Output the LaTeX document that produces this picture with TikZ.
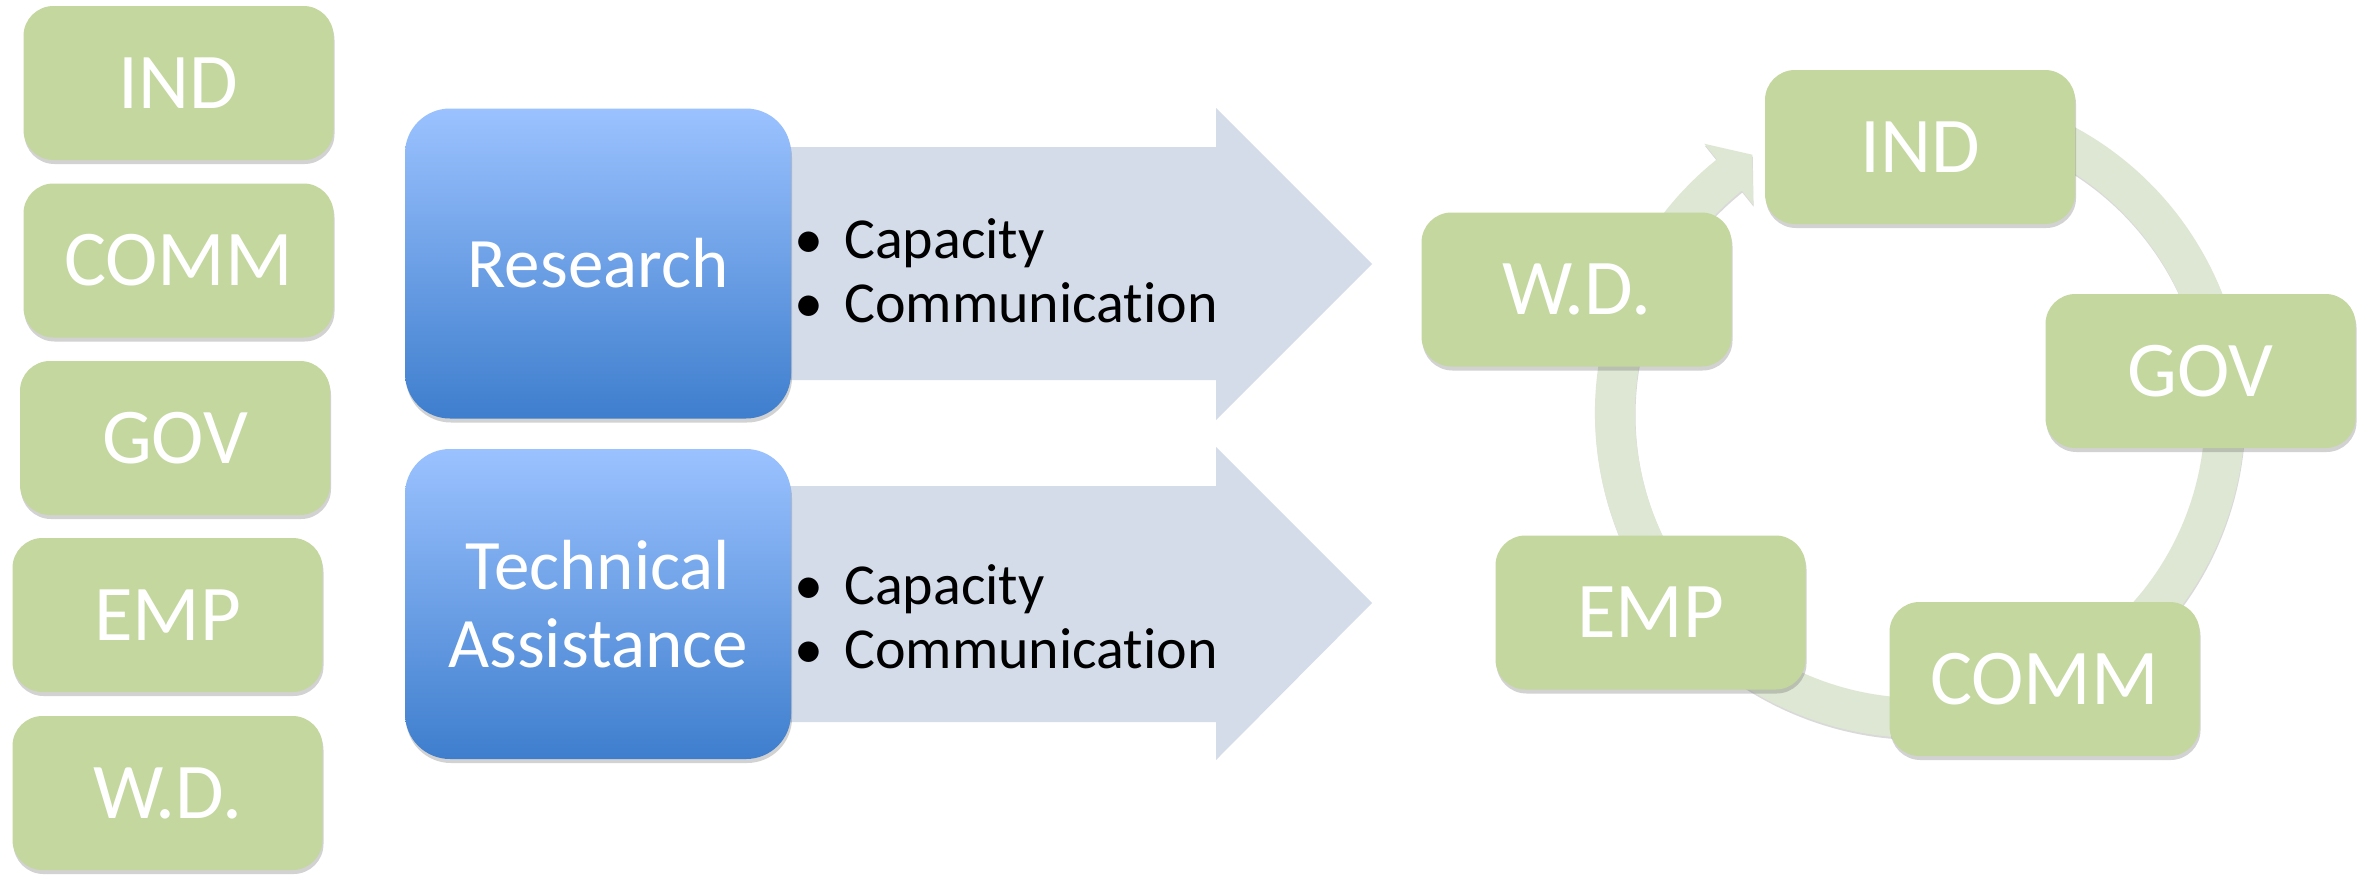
\documentclass[tikz,border=0pt]{standalone}
\usepackage{fontspec}
\setmainfont{Carlito}[Ligatures={NoCommon,NoContextual}]
\usetikzlibrary{shadows}
\definecolor{boxgreen}{RGB}{196,215,159}
\definecolor{ringgreen}{RGB}{222,231,211}
\definecolor{arrowgrey}{RGB}{212,220,234}
\definecolor{bluetop}{RGB}{155,194,255}
\definecolor{bluebot}{RGB}{62,126,205}
\begin{document}
\begin{tikzpicture}[x=1pt,y=1pt,
  softshadow/.style={drop shadow={shadow xshift=1pt, shadow yshift=-4pt, opacity=0.25, fill=black!70}},
  gbox/.style={fill=boxgreen, rounded corners=30pt, minimum width=310pt, minimum height=154pt,
    text=white, font=\fontsize{79}{82}\selectfont, inner sep=0pt, softshadow},
  bbox/.style={top color=bluetop, bottom color=bluebot, rounded corners=45pt,
    minimum width=386pt, minimum height=310pt, text=white, align=center,
    font=\fontsize{71}{78}\selectfont, inner sep=0pt, softshadow},
  bul/.style={anchor=base, inner sep=0pt, font=\fontsize{58}{64}\selectfont},
  btext/.style={anchor=base west, inner sep=0pt, font=\fontsize{58}{64}\selectfont},
  blockarrow/.style={fill=arrowgrey},
  ring/.style={fill=ringgreen, drop shadow={shadow xshift=0.5pt, shadow yshift=-2pt, opacity=0.15, fill=black}}]
\fill[white] (0,0) rectangle (2369,-876);
\useasboundingbox (0,0) rectangle (2369,-876);

% left column
\node[gbox] (lind)  at (178.5,-83)  {IND};
\node[gbox] (lcomm) at (178.5,-260.5) {COMM};
\node[gbox] (lgov)  at (175,-438)   {GOV};
\node[gbox] (lemp)  at (167.5,-615) {EMP};
\node[gbox] (lwd)   at (167.5,-793) {W.D.};

% block arrows
\fill[blockarrow] (700,-147) -- (1216,-147) -- (1216,-108) -- (1372,-264)
  -- (1216,-420) -- (1216,-380) -- (700,-380) -- cycle;
\fill[blockarrow] (700,-486) -- (1216,-486) -- (1216,-447) -- (1372,-603)
  -- (1216,-760) -- (1216,-722) -- (700,-722) -- cycle;

% blue boxes
\node[bbox] (research) at (598,-263.5) {Research};
\node[bbox] (techassist) at (598,-604) {Technical\\Assistance};

% bullets
\node[bul] (b1a) at (809,-258) {•};
\node[btext] (t1a) at (844,-258) {Capacity};
\node[bul] (b1b) at (809,-322) {•};
\node[btext] (t1b) at (844,-322) {Communication};
\node[bul] (b2a) at (809,-604) {•};
\node[btext] (t2a) at (844,-604) {Capacity};
\node[bul] (b2b) at (809,-668) {•};
\node[btext] (t2b) at (844,-668) {Communication};

% cycle ring
\coordinate (rc) at (1920,-413);
\fill[ring] ([shift={(70:325)}]rc) arc[start angle=70, end angle=-231.3, radius=325pt]
  -- ([shift={(128.7:345)}]rc) -- ([shift={(123:308)}]rc)
  -- ([shift={(128.7:267)}]rc) -- ([shift={(128.7:285)}]rc)
  arc[start angle=128.7, end angle=430, radius=285pt] -- cycle;

% cycle boxes
\node[gbox] (rind)  at (1920,-147)    {IND};
\node[gbox] (rwd)   at (1576.5,-289.5) {W.D.};
\node[gbox] (rgov)  at (2200.5,-371)  {GOV};
\node[gbox] (remp)  at (1650.5,-612.5) {EMP};
\node[gbox] (rcomm) at (2044.5,-679)  {COMM};
\end{tikzpicture}
\end{document}
